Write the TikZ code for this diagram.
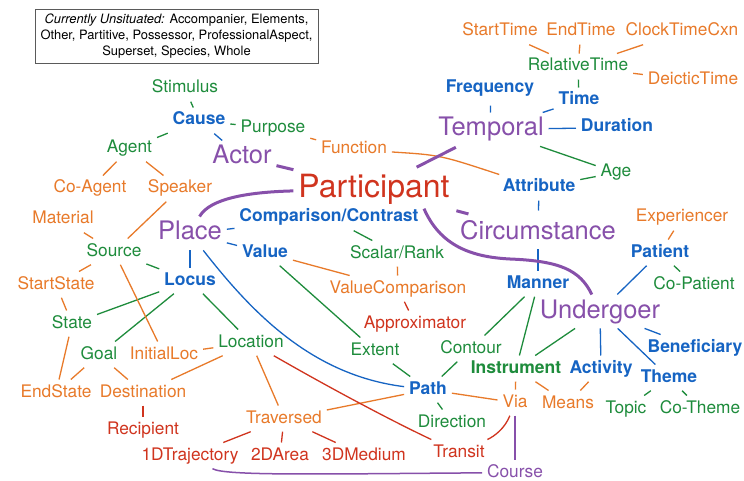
\documentclass[tikz,border=0pt]{standalone}
\usepackage{fontspec}
\setmainfont{TeX Gyre Heros}
\definecolor{cg}{RGB}{30,140,60}
\definecolor{cb}{RGB}{22,100,195}
\definecolor{cp}{RGB}{135,80,170}
\definecolor{co}{RGB}{232,122,42}
\definecolor{cr}{RGB}{208,52,30}
\definecolor{cbox}{RGB}{90,90,90}
\tikzset{
 lb/.style={anchor=base, inner sep=2pt, outer sep=3pt, text height=12.5pt, text depth=3.7pt, font=\fontsize{17.3}{20}\selectfont},
 G/.style={lb, text=cg},
 O/.style={lb, text=co},
 R/.style={lb, text=cr},
 B/.style={lb, text=cb, font=\fontsize{17.5}{20}\selectfont\bfseries},
 GB/.style={lb, text=cg, font=\fontsize{17.5}{20}\selectfont\bfseries},
 PS/.style={lb, text=cp},
 P/.style={lb, text=cp, font=\fontsize{25.5}{28}\selectfont, text height=18.5pt, text depth=5.4pt},
 PR/.style={lb, text=cr, font=\fontsize{32}{36}\selectfont, text height=23pt, text depth=6.7pt},
 eg/.style={draw=cg, line width=1.3pt},
 eb/.style={draw=cb, line width=1.3pt},
 eo/.style={draw=co, line width=1.3pt},
 er/.style={draw=cr, line width=1.3pt},
 ep/.style={draw=cp, line width=1.5pt},
 epk/.style={draw=cp, line width=3pt},
}
\begin{document}
\begin{tikzpicture}[x=1pt,y=-1pt]
\useasboundingbox (0,0) rectangle (744,481);
\fill[white] (0,0) rectangle (744,481);
% box
\node (unsit) [draw=cbox, line width=0.9pt, minimum width=283pt, minimum height=54pt, inner sep=0pt, align=center, font=\fontsize{12.9}{16}\selectfont] at (176.5,36)
 {\textit{Currently Unsituated:} Accompanier, Elements,\\Other, Partitive, Possessor, ProfessionalAspect,\\Superset, Species, Whole};
% nodes
\node[G] (Stimulus) at (185,93) {Stimulus};
\node[B] (Cause) at (199,125) {Cause};
\node[G] (Purpose) at (273,133) {Purpose};
\node[G] (Agent) at (129.5,153) {Agent};
\node[P] (Actor) at (242,164) {Actor};
\node[O] (Function) at (354,154) {Function};
\node[O] (CoAgent) at (90,193) {Co-Agent};
\node[O] (Speaker) at (180,193) {Speaker};
\node[O] (Material) at (63,224) {Material};
\node[PR] (Participant) at (374,197) {Participant};
\node[B] (CompCont) at (329,222) {Comparison/Contrast};
\node[P] (Place) at (190,240) {Place};
\node[B] (Value) at (265,257) {Value};
\node[G] (Scalar) at (397,258) {Scalar/Rank};
\node[O] (ValueComp) at (398,293) {ValueComparison};
\node[P] (Circumstance) at (538,239) {Circumstance};
\node[G] (Source) at (114,256) {Source};
\node[B] (Locus) at (190,285) {Locus};
\node[O] (StartState) at (56,289) {StartState};
\node[G] (State) at (72,328) {State};
\node[R] (Approximator) at (415,328) {Approximator};
\node[G] (Goal) at (99,359) {Goal};
\node[O] (InitialLoc) at (164,359) {InitialLoc};
\node[G] (Location) at (251,347) {Location};
\node[G] (Extent) at (375,355) {Extent};
\node[G] (Contour) at (471,353) {Contour};
\node[O] (EndState) at (56,397) {EndState};
\node[O] (Destination) at (143,397) {Destination};
\node[R] (Recipient) at (143,434) {Recipient};
\node[B] (Path) at (428,394) {Path};
\node[G] (Direction) at (452,427) {Direction};
\node[O] (Via) at (515,407) {Via};
\node[O] (Traversed) at (284,423) {Traversed};
\node[R] (Traj) at (190,460) {1DTrajectory};
\node[R] (Area) at (280,460) {2DArea};
\node[R] (Medium) at (364,460) {3DMedium};
\node[R] (Transit) at (459,457) {Transit};
\node[PS] (Course) at (515,477) {Course};
\node[GB] (Instrument) at (516,373) {Instrument};
\node[B] (Activity) at (601,373) {Activity};
\node[O] (Means) at (568,408) {Means};
\node[B] (Theme) at (669,382) {Theme};
\node[G] (Topic) at (626,413) {Topic};
\node[G] (CoTheme) at (700,413) {Co-Theme};
\node[B] (Beneficiary) at (695,352) {Beneficiary};
\node[P] (Undergoer) at (600,318) {Undergoer};
\node[B] (Manner) at (538,288) {Manner};
\node[B] (Patient) at (660,257) {Patient};
\node[G] (CoPatient) at (694,289) {Co-Patient};
\node[O] (Experiencer) at (682,222) {Experiencer};
\node[B] (Attribute) at (539,192) {Attribute};
\node[G] (Age) at (616,177) {Age};
\node[P] (Temporal) at (491,136) {Temporal};
\node[B] (Duration) at (617,132) {Duration};
\node[B] (Frequency) at (490,93) {Frequency};
\node[B] (Time) at (579,105) {Time};
\node[G] (RelTime) at (578,71) {RelativeTime};
\node[O] (Deictic) at (693,85) {DeicticTime};
\node[O] (StartTime) at (500,36) {StartTime};
\node[O] (EndTime) at (581,36) {EndTime};
\node[O] (Clock) at (682,36) {ClockTimeCxn};
% green edges
\draw[eg] (Stimulus) -- (Cause);
\draw[eg] (Cause) -- (Agent);
\draw[eg] (Cause) -- (Purpose);
\draw[eg] (CompCont) -- (Scalar);
\draw[eg] (Value) -- (Extent);
\draw[eg] (Source) -- (Locus);
\draw[eg] (Locus) -- (State);
\draw[eg] (Locus) -- (Goal);
\draw[eg] (Locus) -- (Location);
\draw[eg] (Extent) -- (Path);
\draw[eg] (Contour) -- (Path);
\draw[eg] (Path) -- (Direction);
\draw[eg] (Manner) -- (Contour);
\draw[eg] (Manner) -- (Instrument);
\draw[eg] (Undergoer) -- (Instrument);
\draw[eg] (Patient) -- (CoPatient);
\draw[eg] (Theme) -- (Topic);
\draw[eg] (Theme) -- (CoTheme);
\draw[eg] (Temporal) -- (Age);
\draw[eg] (Age) -- (Attribute);
\draw[eg] (Time) -- (RelTime);
% blue edges
\draw[eb] (Cause) -- (Actor);
\draw[eb] (Place) -- (CompCont);
\draw[eb] (Place) -- (Value);
\draw[eb] (Place) -- (Locus);
\draw[eb] (Place) .. controls (250,310) and (310,375) .. (Path);
\draw[eb, shorten >=4pt] (Temporal) -- (Frequency);
\draw[eb] (Temporal) -- (Time);
\draw[eb] (Temporal) -- (Duration);
\draw[eb, shorten >=5pt] (Attribute) -- (Circumstance);
\draw[eb] (Circumstance) -- (Manner);
\draw[eb] (Patient) -- (Undergoer);
\draw[eb] (Undergoer) -- (Activity);
\draw[eb] (Undergoer) -- (Theme);
\draw[eb] (Undergoer) -- (Beneficiary);
% orange edges
\draw[eo] (Purpose) -- (Function);
\draw[eo] (Function) .. controls (440,155) .. (Attribute);
\draw[eo] (Agent) -- (CoAgent);
\draw[eo] (Agent) -- (Speaker);
\draw[eo] (Speaker) -- (Source);
\draw[eo] (Material) -- (Source);
\draw[eo] (Source) -- (InitialLoc);
\draw[eo] (Source) -- (StartState);
\draw[eo] (StartState) -- (State);
\draw[eo] (State) -- (EndState);
\draw[eo] (Goal) -- (EndState);
\draw[eo] (Goal) -- (Destination);
\draw[eo] (Location) -- (InitialLoc);
\draw[eo] (Location) -- (Destination);
\draw[eo] (Location) -- (Traversed);
\draw[eo] (Traversed) -- (Path);
\draw[eo] (Path) -- (Via);
\draw[eo] (Value) -- (ValueComp);
\draw[eo] (Scalar) -- (ValueComp);
\draw[eo] (Instrument) -- (Via);
\draw[eo] (Instrument) -- (Means);
\draw[eo] (Activity) -- (Means);
\draw[eo] (Experiencer) -- (Patient);
\draw[eo] (RelTime) -- (StartTime);
\draw[eo] (RelTime) -- (EndTime);
\draw[eo] (RelTime) -- (Clock);
\draw[eo] (RelTime) -- (Deictic);
% red edges
\draw[er] (ValueComp) -- (Approximator);
\draw[er] (Destination) -- (Recipient);
\draw[er] (Traversed) -- (Traj);
\draw[er] (Traversed) -- (Area);
\draw[er] (Traversed) -- (Medium);
\draw[er] (Location) .. controls (330,388) and (390,420) .. (Transit);
\draw[er] (Via) .. controls (505,428) and (495,436) .. (Transit);
% purple edges
\draw[ep] (Via) -- (Course);
\draw[ep] (Traj) .. controls (225,476) and (320,474) .. (Course);
\draw[epk] (Actor) -- (Participant);
\draw[epk] (Participant) .. controls (250,192) and (210,198) .. (Place);
\draw[epk, shorten <=8pt, shorten >=6pt] (Participant) -- (Circumstance);
\draw[epk, shorten <=4pt, shorten >=2pt] (Participant) -- (Temporal);
\draw[epk] ([xshift=50pt]Participant.south) .. controls (440,245) and (470,257) .. (510,259) .. controls (560,261) and (580,270) .. (Undergoer);
\end{tikzpicture}
\end{document}
